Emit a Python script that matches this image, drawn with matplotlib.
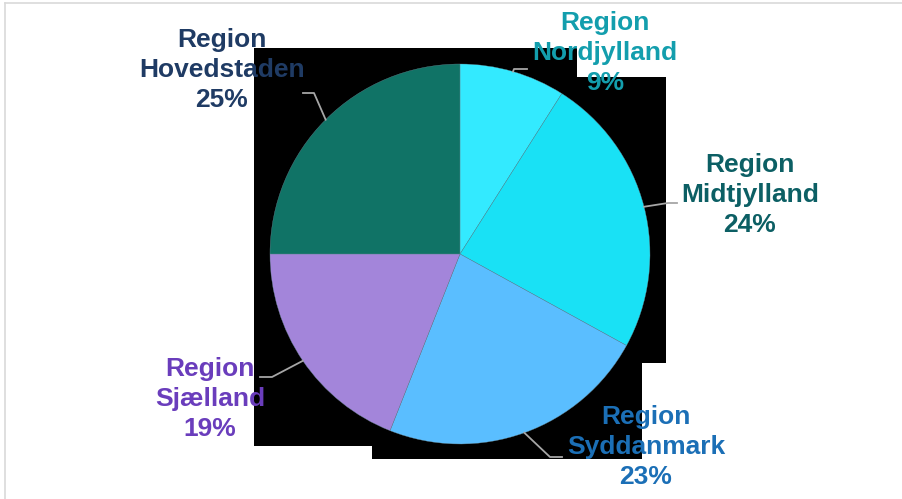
import numpy as np
import matplotlib
matplotlib.use("Agg")
from matplotlib import pyplot as plt
from matplotlib.patches import Polygon

# data
regions = ["Nordjylland", "Midtjylland", "Syddanmark", "Sjælland", "Hovedstaden"]
shares = [9, 24, 23, 19, 25]
slice_colors = ["#33EAFF", "#19E1F5", "#5ABEFF", "#A385DA", "#107366"]
text_colors = ["#139EAD", "#0C5F64", "#1B6FB6", "#6A3DBC", "#1F3B64"]

# label centres and leader elbows in pixel coords (layout only)
label_pos = [(605, 53), (750, 195), (646, 447), (210, 399), (222, 70)]
elbows = [[(514, 69), (527, 69)],
          [(668, 203), (677, 203)],
          [(550, 457), (562, 457)],
          [(272, 377), (260, 377)],
          [(314, 93), (303, 93)]]

W, H = 903, 499
fig = plt.figure(figsize=(W / 100, H / 100), dpi=100)
fig.patch.set_facecolor("white")

# background layer: frame + black plot area
bg = fig.add_axes([0, 0, 1, 1], zorder=0)
bg.set_xlim(0, W)
bg.set_ylim(H, 0)
bg.axis("off")
black = [(254, 48), (577, 48), (577, 77), (666, 77), (666, 363), (642, 363),
         (642, 459), (372, 459), (372, 446), (254, 446)]
bg.add_patch(Polygon(black, closed=True, facecolor="black", edgecolor="none"))
bg.plot([5, 5], [3, H], color="#D9D9D9", lw=1.2)
bg.plot([5, W], [3, 3], color="#D9D9D9", lw=1.2)

# pie layer
cx, cy, r = 460, 254, 190
ax = fig.add_axes([(cx - r) / W, (H - cy - r) / H, 2 * r / W, 2 * r / H], zorder=1)
wedges, _ = ax.pie(shares, colors=slice_colors, startangle=90, counterclock=False,
                   radius=1, wedgeprops=dict(edgecolor="#6a8a96", linewidth=0.25))
ax.set_xlim(-1, 1)
ax.set_ylim(-1, 1)
ax.axis("off")

# foreground layer: leader lines + labels
fg = fig.add_axes([0, 0, 1, 1], zorder=2)
fg.set_xlim(0, W)
fg.set_ylim(H, 0)
fg.axis("off")
fg.patch.set_alpha(0)

for i, w in enumerate(wedges):
    ang = np.deg2rad((w.theta1 + w.theta2) / 2)
    px = cx + r * np.cos(ang)
    py = cy - r * np.sin(ang)
    pts = [(px, py)] + elbows[i]
    fg.plot([p[0] for p in pts], [p[1] for p in pts], color="#A6A6A6", lw=1.3)
    fg.text(label_pos[i][0], label_pos[i][1],
            "Region\n%s\n%d%%" % (regions[i], shares[i]),
            ha="center", va="center", multialignment="center",
            fontsize=19, fontweight="bold", color=text_colors[i],
            family="Liberation Sans", linespacing=1.3)

fig.savefig("out.png", dpi=100)
